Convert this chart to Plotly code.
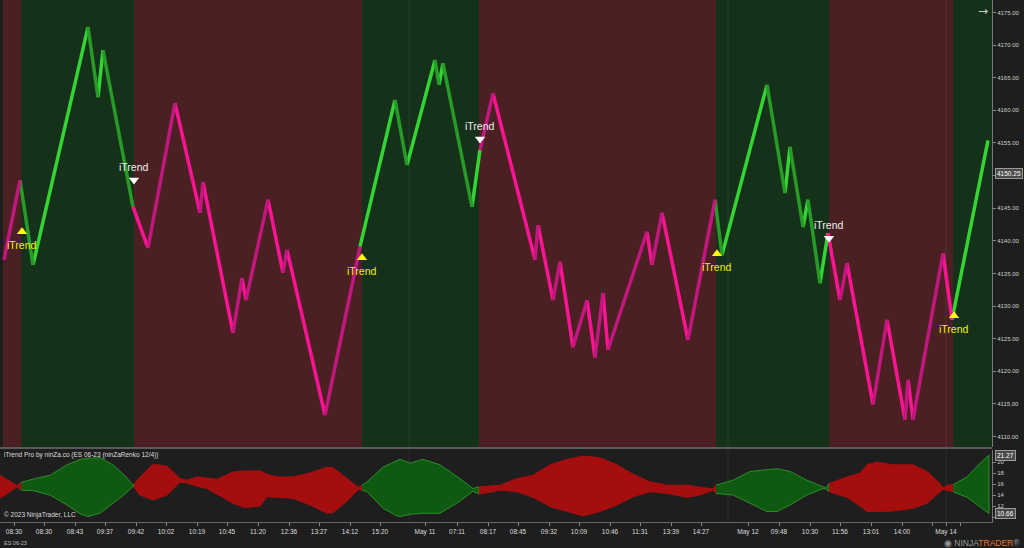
import plotly.graph_objects as go

# ---------------- DATA ----------------
# Renko price path turning points (bar index, price)
price_bar = [4, 20, 33, 88, 98, 103, 133, 148, 175, 200, 203, 233, 242, 246, 268, 283, 287, 325,
             360, 395, 407, 435, 439, 443, 472, 480, 493, 535, 538, 553, 560, 573, 587, 595, 603,
             608, 647, 652, 662, 688, 715, 722, 767, 785, 790, 803, 808, 820, 828, 840, 847, 873,
             887, 905, 908, 913, 943, 952, 988]
price_val = [4137.1, 4149.3, 4136.3, 4172.75, 4162.0, 4169.2, 4145.2, 4138.9, 4161.1, 4144.3,
             4149.0, 4125.9, 4134.3, 4130.9, 4146.3, 4135.1, 4138.6, 4113.3, 4139.1, 4161.6,
             4151.6, 4167.7, 4163.9, 4167.2, 4145.2, 4153.9, 4162.6, 4137.1, 4142.4, 4130.9,
             4136.8, 4123.7, 4130.9, 4122.1, 4132.0, 4123.3, 4141.4, 4136.3, 4144.3, 4124.8,
             4146.3, 4137.8, 4163.9, 4147.3, 4154.4, 4142.1, 4146.3, 4133.5, 4141.2, 4130.9,
             4136.6, 4114.9, 4127.9, 4112.6, 4118.7, 4112.6, 4138.1, 4127.9, 4155.4]
last_price = 4150.25

# Trend regions (bar index ranges)
region_start = [3, 21, 134, 362, 479, 716, 829, 953]
region_end = [21, 134, 362, 479, 716, 829, 953, 992]
region_trend = ["down", "up", "down", "up", "down", "up", "down", "up"]

# iTrend signals
signal_bar = [22, 134, 362, 480, 717, 829, 954]
signal_price = [4141.4, 4149.3, 4137.4, 4155.6, 4138.0, 4140.4, 4128.5]
signal_dir = ["up", "down", "up", "down", "up", "down", "up"]

# iTrend Pro ribbon (lower panel)
rib_bar = [0, 8, 17, 21, 33, 50, 67, 80, 88, 100, 113, 125, 133, 134, 140, 153, 167, 180, 187,
           197, 207, 217, 233, 245, 260, 267, 277, 293, 310, 327, 333, 347, 358, 362, 367, 383,
           397, 400, 410, 423, 440, 460, 473, 479, 490, 500, 517, 533, 550, 567, 583, 600, 617,
           633, 650, 667, 687, 700, 710, 713, 716, 733, 750, 767, 777, 790, 807, 823, 826, 829,
           847, 860, 867, 877, 893, 913, 927, 940, 943, 948, 953, 967, 980, 989]
rib_upper = [17.6, 16.7, 15.7, 16.3, 16.9, 17.6, 19.5, 20.5, 20.7, 20.8, 19.5, 17.5, 15.8, 16.0,
             17.3, 19.6, 19.3, 17.0, 16.7, 17.3, 17.1, 16.9, 18.2, 18.4, 18.4, 17.8, 17.3, 17.3,
             18.0, 19.1, 19.0, 17.0, 15.4, 15.8, 16.4, 19.1, 20.3, 20.5, 19.8, 20.5, 19.5, 17.0,
             15.2, 15.5, 15.6, 15.8, 17.0, 17.6, 19.5, 20.5, 21.1, 20.8, 19.5, 17.8, 16.4, 15.8,
             15.8, 15.5, 15.3, 15.1, 15.8, 16.7, 18.3, 18.7, 18.8, 18.3, 16.7, 15.5, 15.3, 16.1,
             17.3, 18.0, 19.5, 20.0, 19.5, 19.5, 18.3, 16.1, 15.3, 15.8, 15.9, 17.3, 19.8, 21.27]
rib_lower = [13.4, 14.3, 15.5, 14.9, 14.8, 14.0, 12.2, 10.6, 10.1, 10.7, 12.5, 14.2, 15.6, 15.4,
             14.0, 13.1, 14.0, 16.3, 16.2, 15.6, 15.2, 14.2, 12.5, 11.7, 12.0, 13.7, 13.6, 13.4,
             12.2, 10.7, 10.8, 12.9, 15.0, 14.9, 14.6, 11.6, 10.2, 10.1, 10.5, 10.7, 10.7, 12.9,
             14.7, 14.2, 14.5, 14.9, 14.6, 13.6, 11.9, 11.0, 10.2, 11.0, 12.2, 13.7, 14.6, 14.3,
             13.6, 14.0, 14.7, 14.9, 14.3, 14.0, 12.5, 11.0, 11.0, 12.2, 14.0, 15.2, 15.1, 14.6,
             13.6, 12.0, 11.0, 11.0, 11.1, 11.6, 12.5, 14.6, 15.0, 14.8, 14.6, 13.6, 11.8, 10.66]

# Time axis labels
tick_bar = [14, 44, 75, 105, 136, 166, 197, 227, 258, 289, 319, 350, 380, 425, 457, 488, 518,
            549, 579, 610, 640, 671, 701, 748, 779, 810, 840, 871, 902, 932, 946, 960]
tick_text = ["08:30", "08:30", "08:43", "09:37", "09:42", "10:02", "10:19", "10:45", "11:20",
             "12:36", "13:27", "14:12", "15:20", "May 11", "07:11", "08:17", "08:45", "09:32",
             "10:09", "10:46", "11:31", "13:39", "14:27", "May 12", "09:48", "10:30", "11:56",
             "13:01", "14:00", "", "May 14", ""]
session_breaks = [409, 728, 946]

price_ticks = [4110 + 5 * i for i in range(14)]
ind_ticks = [10, 12, 14, 16, 18, 20]

# ---------------- STYLE ----------------
BG = "#1e1e1e"
REG_UP = "#15311a"
REG_DN = "#4a2023"
C_UP_BRIGHT = "#33d433"
C_UP_DIM = "#279a27"
C_DN_BRIGHT = "#ff1493"
C_DN_DIM = "#c2177f"
RIB_UP = "#0f5a10"
RIB_DN = "#a50e0e"

fig = go.Figure()

def region_of(x):
    for s, e, t in zip(region_start, region_end, region_trend):
        if s <= x <= e:
            return t
    return region_trend[0]

# background regions in top panel
shapes = []
for s, e, t in zip(region_start, region_end, region_trend):
    shapes.append(dict(type="rect", xref="x", yref="y domain", x0=s, x1=e, y0=0, y1=1,
                       fillcolor=REG_UP if t == "up" else REG_DN, line_width=0, layer="below"))
for b in session_breaks:
    for yr in ["y domain", "y2 domain"]:
        shapes.append(dict(type="line", xref="x", yref=yr, x0=b, x1=b, y0=0, y1=1,
                           line=dict(color="rgba(255,255,255,0.07)", width=1), layer="below"))
# panel separator
shapes.append(dict(type="line", xref="paper", yref="paper", x0=0, x1=1, y0=0.1418, y1=0.1418,
                   line=dict(color="#5a5a5a", width=2)))

# price segments grouped by colour
groups = {C_UP_BRIGHT: ([], []), C_UP_DIM: ([], []), C_DN_BRIGHT: ([], []), C_DN_DIM: ([], [])}
for i in range(len(price_bar) - 1):
    x0, x1 = price_bar[i], price_bar[i + 1]
    p0, p1 = price_val[i], price_val[i + 1]
    trend = region_of((x0 + x1) / 2)
    rising = p1 > p0
    if trend == "up":
        col = C_UP_BRIGHT if rising else C_UP_DIM
    else:
        col = C_DN_DIM if rising else C_DN_BRIGHT
    gx, gy = groups[col]
    gx += [x0, x1, None]
    gy += [p0, p1, None]
for col, (gx, gy) in groups.items():
    fig.add_trace(go.Scatter(x=gx, y=gy, mode="lines", line=dict(color=col, width=3.5),
                             xaxis="x", yaxis="y", hoverinfo="skip", showlegend=False))

# signals
ux = [b for b, d in zip(signal_bar, signal_dir) if d == "up"]
uy = [p for p, d in zip(signal_price, signal_dir) if d == "up"]
dx = [b for b, d in zip(signal_bar, signal_dir) if d == "down"]
dy = [p for p, d in zip(signal_price, signal_dir) if d == "down"]
fig.add_trace(go.Scatter(x=ux, y=uy, mode="markers", xaxis="x", yaxis="y", showlegend=False,
                         marker=dict(symbol="triangle-up", size=9, color="#ffff00")))
fig.add_trace(go.Scatter(x=dx, y=dy, mode="markers", xaxis="x", yaxis="y", showlegend=False,
                         marker=dict(symbol="triangle-down", size=9, color="#ffffff")))

annotations = []
for b, p, d in zip(signal_bar, signal_price, signal_dir):
    annotations.append(dict(x=b, y=p, xref="x", yref="y", text="iTrend", showarrow=False,
                            yshift=-13 if d == "up" else 13,
                            font=dict(family="Arial", size=10.5,
                                      color="#f2f200" if d == "up" else "#eeeeee")))

# ribbon polygons per region
for i, (s, e, t) in enumerate(zip(region_start, region_end, region_trend)):
    lo = -1e9 if i == 0 else s
    idx = [k for k, x in enumerate(rib_bar) if lo <= x <= e]
    if len(idx) < 2:
        continue
    xs = [rib_bar[k] for k in idx]
    up = [rib_upper[k] for k in idx]
    dn = [rib_lower[k] for k in idx]
    fc = RIB_UP if t == "up" else RIB_DN
    lc = "#2c8c2c" if t == "up" else RIB_DN
    fig.add_trace(go.Scatter(x=xs + xs[::-1], y=up + dn[::-1], mode="lines", fill="toself",
                             fillcolor=fc, line=dict(color=lc, width=1), xaxis="x2", yaxis="y2",
                             hoverinfo="skip", showlegend=False))

# value labels on right axes
def value_box(y, yref, text):
    return dict(x=1, xref="paper", y=y, yref=yref, text=text, showarrow=False, xanchor="left",
                xshift=3, bgcolor="#4a4a4a", bordercolor="#9a9a9a", borderwidth=1, borderpad=1,
                font=dict(family="Arial", size=6.5, color="#ffffff"))

annotations.append(value_box(last_price, "y", f"{last_price:.2f}"))
annotations.append(value_box(rib_upper[-1], "y2", f"{rib_upper[-1]:.2f}"))
annotations.append(value_box(rib_lower[-1], "y2", f"{rib_lower[-1]:.2f}"))

annotations += [
    dict(x=0.002, xref="paper", y=0.128, yref="paper", xanchor="left", yanchor="middle",
         showarrow=False, text="iTrend Pro by ninZa.co (ES 06-23 (ninZaRenko 12/4))",
         font=dict(family="Arial", size=6.5, color="#dddddd")),
    dict(x=0.002, xref="paper", y=0.0134, yref="paper", xanchor="left", yanchor="middle",
         showarrow=False, text="© 2023 NinjaTrader, LLC",
         font=dict(family="Arial", size=6.5, color="#dddddd")),
    dict(x=0.002, xref="paper", y=-0.040, yref="paper", xanchor="left", yanchor="middle",
         showarrow=False, text="ES 06-23", font=dict(family="Arial", size=5.5, color="#bbbbbb")),
    dict(x=1.030, xref="paper", y=-0.040, yref="paper", xanchor="right", yanchor="middle",
         showarrow=False,
         text="<span style='color:#9a9a9a'>◉ NINJA</span><span style='color:#e0782a'>TRADER</span><span style='color:#9a9a9a'>®</span>",
         font=dict(family="Arial", size=8.5, color="#9a9a9a")),
    dict(x=983 / 992, xref="paper", y=0.979, yref="paper", xanchor="center", yanchor="middle",
         showarrow=False, text="→", font=dict(family="DejaVu Sans", size=12, color="#cccccc")),
]

top_dom = [(522 - 447) / 522, 1]
bot_dom = [0, (522 - 450) / 522]

fig.update_layout(
    width=1024, height=548,
    margin=dict(l=0, r=32, t=0, b=26),
    paper_bgcolor=BG, plot_bgcolor=BG,
    showlegend=False,
    shapes=shapes, annotations=annotations,
    xaxis=dict(domain=[0, 1], range=[0, 992], anchor="y", showticklabels=False, showgrid=False,
               zeroline=False, ticks="", matches="x2"),
    xaxis2=dict(domain=[0, 1], range=[0, 992], anchor="y2", showgrid=False, zeroline=False,
                tickvals=tick_bar, ticktext=tick_text, ticks="outside", ticklen=3,
                tickcolor="#888888", showline=True, linecolor="#666666", linewidth=1,
                tickfont=dict(family="Arial", size=6.5, color="#dddddd")),
    yaxis=dict(domain=top_dom, range=[4108.4, 4176.9], side="right", anchor="x",
               tickvals=price_ticks, ticktext=[f"{v:.2f}" for v in price_ticks],
               showgrid=False, zeroline=False, ticks="outside", ticklen=3, tickcolor="#888888",
               showline=True, linecolor="#777777", linewidth=1,
               tickfont=dict(family="Arial", size=6, color="#cccccc")),
    yaxis2=dict(domain=bot_dom, range=[9.1, 22.2], side="right", anchor="x2",
                tickvals=ind_ticks, ticktext=[str(v) for v in ind_ticks],
                showgrid=False, zeroline=False, ticks="outside", ticklen=3, tickcolor="#888888",
                showline=True, linecolor="#777777", linewidth=1,
                tickfont=dict(family="Arial", size=6, color="#cccccc")),
)

fig.write_html("out.html",
               config={"displayModeBar": False},
               post_script="document.body.style.margin='0';document.body.style.background='#1e1e1e';document.body.style.overflow='hidden';")
